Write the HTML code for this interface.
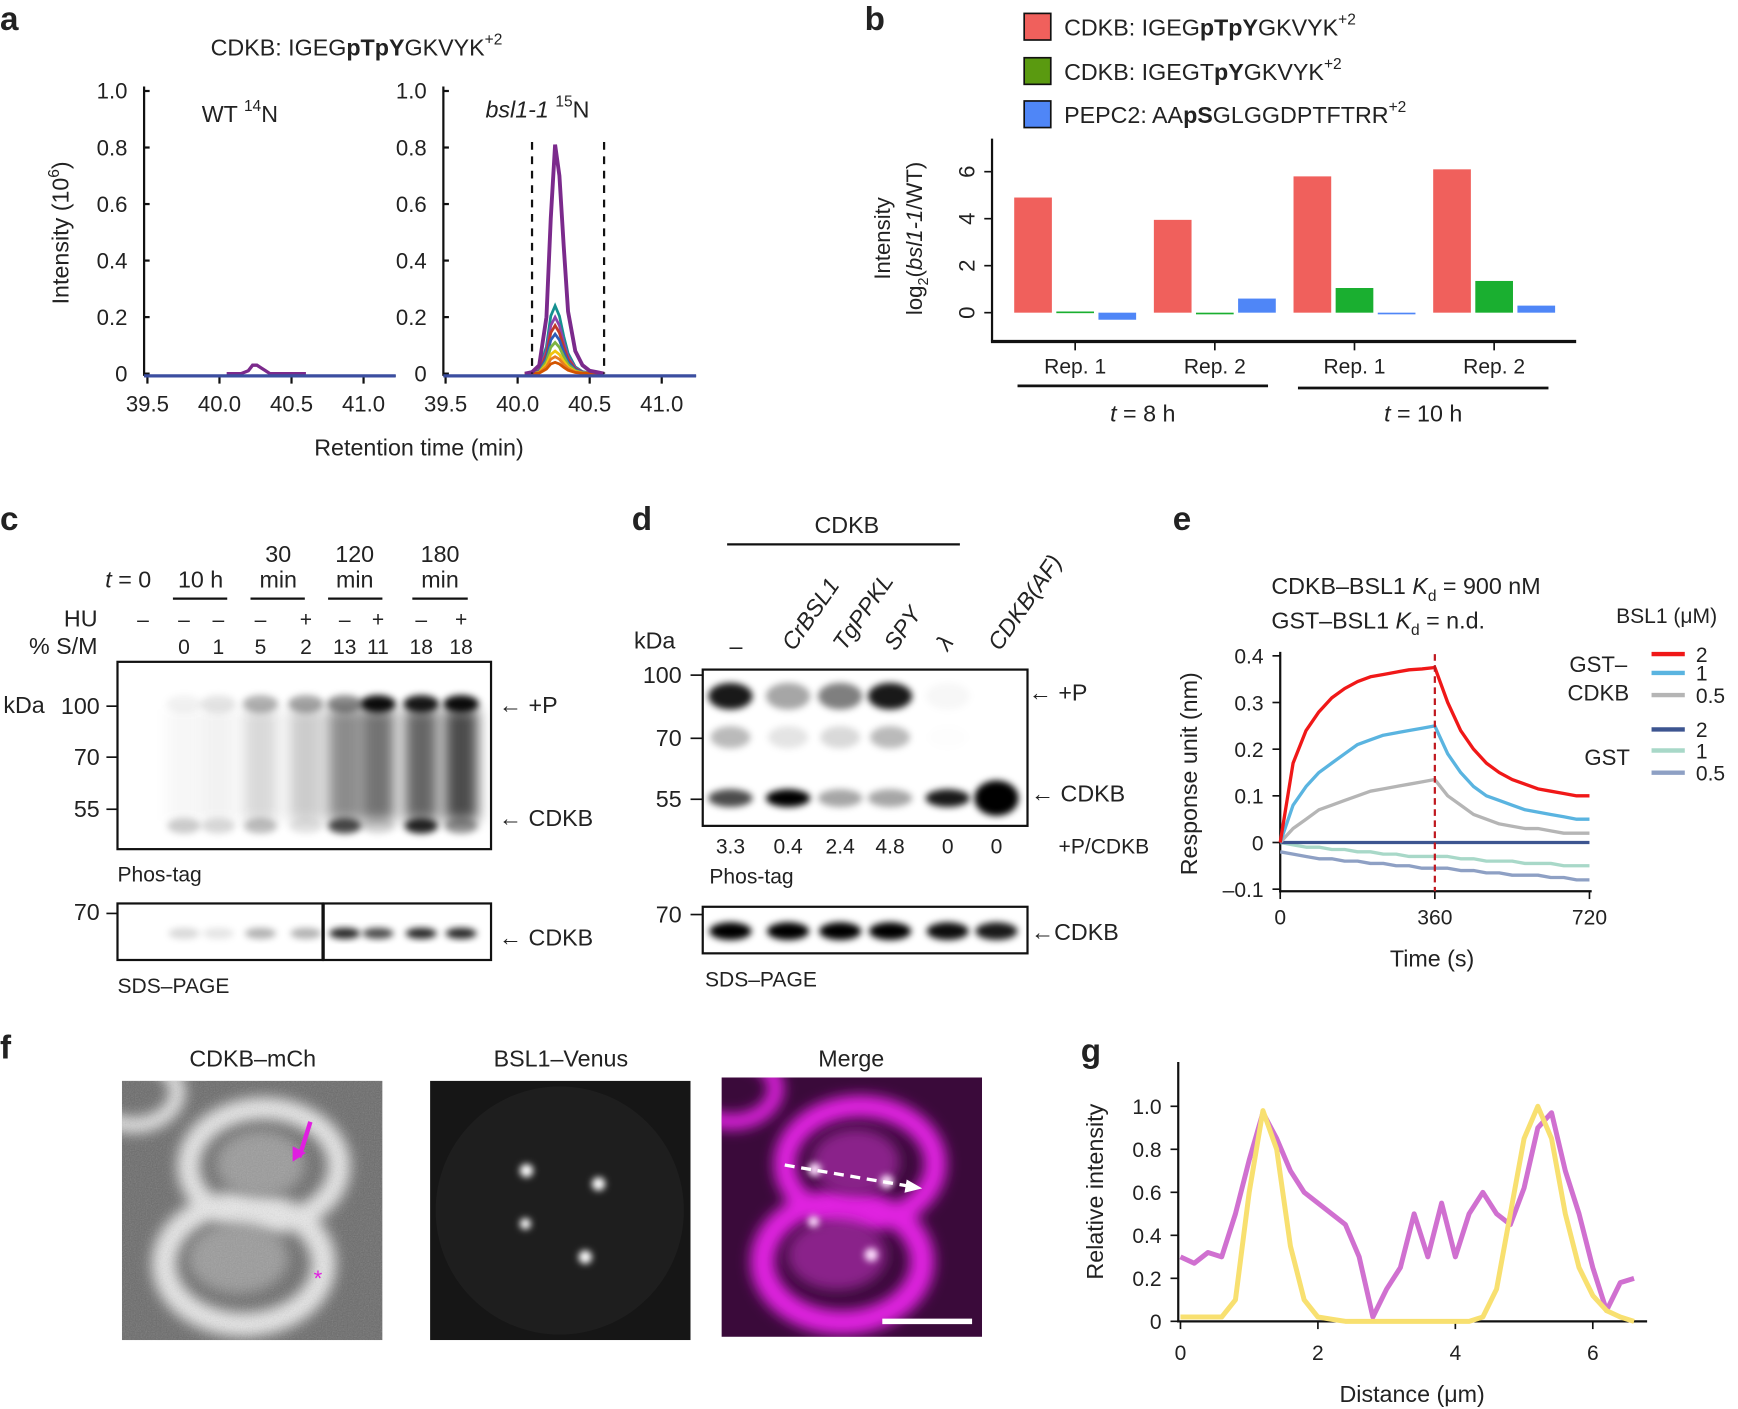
<!DOCTYPE html>
<html><head><meta charset="utf-8"><style>
html,body{margin:0;padding:0;background:#fff}
svg{display:block}
text{font-family:"Liberation Sans",sans-serif;fill:#222}
</style></head><body>
<svg id="fig" width="1738" height="1409" viewBox="0 0 1568 1271" xmlns="http://www.w3.org/2000/svg">
<defs>
<filter id="blur3" x="-50%" y="-50%" width="200%" height="200%"><feGaussianBlur stdDeviation="3"/></filter>
<filter id="blur6" x="-50%" y="-50%" width="200%" height="200%"><feGaussianBlur stdDeviation="6"/></filter>
<filter id="noise" x="0" y="0" width="100%" height="100%"><feTurbulence type="fractalNoise" baseFrequency="0.9" numOctaves="1" seed="3"/><feColorMatrix type="saturate" values="0"/><feComponentTransfer><feFuncA type="linear" slope="0.5"/></feComponentTransfer></filter>
<clipPath id="clipF1"><rect x="110" y="975" width="235" height="234"/></clipPath>
<clipPath id="clipF2"><rect x="388" y="975" width="235" height="234"/></clipPath>
<clipPath id="clipF3"><rect x="651" y="972" width="235" height="234"/></clipPath>
<clipPath id="clipC"><rect x="107" y="598" width="335" height="167"/></clipPath>
<clipPath id="clipD"><rect x="635" y="605" width="291" height="139"/></clipPath>
</defs>

<!-- panel labels -->
<g font-weight="bold" font-size="30">
<text x="0" y="27">a</text>
<text x="780" y="27">b</text>
<text x="0" y="478">c</text>
<text x="570" y="478">d</text>
<text x="1058" y="478">e</text>
<text x="0" y="955">f</text>
<text x="975" y="958">g</text>
</g>

<!-- ===== Panel a ===== -->
<g id="panelA">
<text x="190" y="50" font-size="21">CDKB: IGEG<tspan font-weight="bold">pTpY</tspan>GKVYK<tspan font-size="14" dy="-10">+2</tspan></text>
<text x="182" y="110" font-size="21">WT <tspan font-size="14" dy="-10">14</tspan><tspan dy="10">N</tspan></text>
<text x="438" y="106" font-size="21"><tspan font-style="italic">bsl1-1</tspan> <tspan font-size="14" dy="-10">15</tspan><tspan dy="10">N</tspan></text>
<text transform="translate(62,210) rotate(-90)" text-anchor="middle" font-size="21">Intensity (10<tspan font-size="14" dy="-9">6</tspan><tspan dy="9">)</tspan></text>
<text x="378" y="411" text-anchor="middle" font-size="21">Retention time (min)</text>
<g id="aAxes"></g>
<g id="aSeries"></g>
</g>

<!-- ===== Panel b ===== -->
<g id="panelB">
<g>
<rect x="924" y="12" width="24" height="24" fill="#f0605c" stroke="#111" stroke-width="1.5"/>
<text x="960" y="32" font-size="21">CDKB: IGEG<tspan font-weight="bold">pTpY</tspan>GKVYK<tspan font-size="14" dy="-10">+2</tspan></text>
<rect x="924" y="52" width="24" height="24" fill="#5a9a10" stroke="#111" stroke-width="1.5"/>
<text x="960" y="72" font-size="21">CDKB: IGEGT<tspan font-weight="bold">pY</tspan>GKVYK<tspan font-size="14" dy="-10">+2</tspan></text>
<rect x="924" y="91" width="24" height="24" fill="#4f86f7" stroke="#111" stroke-width="1.5"/>
<text x="960" y="111" font-size="21">PEPC2: AA<tspan font-weight="bold">pS</tspan>GLGGDPTFTRR<tspan font-size="14" dy="-10">+2</tspan></text>
</g>
<text transform="translate(803,215) rotate(-90)" text-anchor="middle" font-size="20">Intensity</text>
<text transform="translate(832,215) rotate(-90)" text-anchor="middle" font-size="20">log<tspan font-size="13" dy="5">2</tspan><tspan dy="-5">(</tspan><tspan font-style="italic">bsl1-1</tspan>/WT)</text>
<g id="bAxes"></g>
<g id="bBars"></g>
<line x1="918" y1="348" x2="1144" y2="348" stroke="#111" stroke-width="2.5"/>
<line x1="1171" y1="350" x2="1397" y2="350" stroke="#111" stroke-width="2.5"/>
<text x="1031" y="380" text-anchor="middle" font-size="21"><tspan font-style="italic">t</tspan> = 8 h</text>
<text x="1284" y="380" text-anchor="middle" font-size="21"><tspan font-style="italic">t</tspan> = 10 h</text>
</g>

<!-- ===== Panel c ===== -->
<g id="panelC" font-size="21">
<text x="95" y="530"><tspan font-style="italic">t</tspan> = 0</text>
<text x="181" y="530" text-anchor="middle">10 h</text>
<text x="251" y="507" text-anchor="middle">30</text><text x="251" y="530" text-anchor="middle">min</text>
<text x="320" y="507" text-anchor="middle">120</text><text x="320" y="530" text-anchor="middle">min</text>
<text x="397" y="507" text-anchor="middle">180</text><text x="397" y="530" text-anchor="middle">min</text>
<g stroke="#111" stroke-width="2"><line x1="156" y1="540" x2="205" y2="540"/><line x1="226" y1="540" x2="275" y2="540"/><line x1="296" y1="540" x2="345" y2="540"/><line x1="372" y1="540" x2="422" y2="540"/></g>
<text x="88" y="565" text-anchor="end">HU</text>
<text x="88" y="590" text-anchor="end">% S/M</text>
<g text-anchor="middle" font-size="19" id="cLaneText"></g>
<rect x="106" y="597" width="337" height="169" fill="#fff" stroke="#111" stroke-width="2"/>
<g clip-path="url(#clipC)" id="cBands"></g>
<text x="3" y="643">kDa</text>
<text x="90" y="644" text-anchor="end">100</text><text x="90" y="690" text-anchor="end">70</text><text x="90" y="737" text-anchor="end">55</text>
<g stroke="#111" stroke-width="1.5"><line x1="96" y1="637" x2="106" y2="637"/><line x1="96" y1="683" x2="106" y2="683"/><line x1="96" y1="730" x2="106" y2="730"/></g>
<text x="450" y="643">← +P</text>
<text x="450" y="745">← CDKB</text>
<text x="106" y="795" font-size="19">Phos-tag</text>
<rect x="106" y="815" width="185" height="51" fill="#fff" stroke="#111" stroke-width="2"/>
<rect x="292" y="815" width="151" height="51" fill="#fff" stroke="#111" stroke-width="2"/>
<g id="cSds"></g>
<text x="90" y="830" text-anchor="end">70</text><line x1="96" y1="824" x2="106" y2="824" stroke="#111" stroke-width="1.5"/>
<text x="450" y="853">← CDKB</text>
<text x="106" y="896" font-size="19">SDS–PAGE</text>
</g>

<!-- ===== Panel d ===== -->
<g id="panelD" font-size="21">
<text x="764" y="481" text-anchor="middle">CDKB</text>
<line x1="656" y1="491" x2="866" y2="491" stroke="#111" stroke-width="2"/>
<text x="572" y="585">kDa</text>
<text x="664" y="590" text-anchor="middle">–</text>
<g font-style="italic">
<text transform="translate(716,588) rotate(-55)">CrBSL1</text>
<text transform="translate(762,588) rotate(-55)">TgPPKL</text>
<text transform="translate(808,588) rotate(-55)">SPY</text>
<text transform="translate(855,588) rotate(-55)">λ</text>
<text transform="translate(902,588) rotate(-55)">CDKB(AF)</text>
</g>
<rect x="634" y="604" width="293" height="141" fill="#fff" stroke="#111" stroke-width="2"/>
<g clip-path="url(#clipD)" id="dBands"></g>
<text x="615" y="616" text-anchor="end">100</text><text x="615" y="673" text-anchor="end">70</text><text x="615" y="728" text-anchor="end">55</text>
<g stroke="#111" stroke-width="1.5"><line x1="623" y1="609" x2="634" y2="609"/><line x1="623" y1="666" x2="634" y2="666"/><line x1="623" y1="721" x2="634" y2="721"/></g>
<text x="928" y="632">← +P</text>
<text x="930" y="723">← CDKB</text>
<g text-anchor="middle" font-size="19"><text x="659" y="770">3.3</text><text x="711" y="770">0.4</text><text x="758" y="770">2.4</text><text x="803" y="770">4.8</text><text x="855" y="770">0</text><text x="899" y="770">0</text></g>
<text x="955" y="770" font-size="19">+P/CDKB</text>
<text x="640" y="797" font-size="19">Phos-tag</text>
<rect x="634" y="818" width="293" height="42" fill="#fff" stroke="#111" stroke-width="2"/>
<g id="dSds"></g>
<text x="615" y="832" text-anchor="end">70</text><line x1="623" y1="825" x2="634" y2="825" stroke="#111" stroke-width="1.5"/>
<text x="930" y="848">←CDKB</text>
<text x="636" y="890" font-size="19">SDS–PAGE</text>
</g>

<!-- ===== Panel e ===== -->
<g id="panelE">
<text x="1147" y="536" font-size="21">CDKB–BSL1 <tspan font-style="italic">K</tspan><tspan font-size="14" dy="6">d</tspan><tspan dy="-6"> = 900 nM</tspan></text>
<text x="1147" y="567" font-size="21">GST–BSL1 <tspan font-style="italic">K</tspan><tspan font-size="14" dy="6">d</tspan><tspan dy="-6"> = n.d.</tspan></text>
<text x="1458" y="562" font-size="19">BSL1 (μM)</text>
<text x="1442" y="606" font-size="20" text-anchor="middle">GST–</text>
<text x="1442" y="632" font-size="20" text-anchor="middle">CDKB</text>
<text x="1450" y="690" font-size="20" text-anchor="middle">GST</text>
<g id="eLegend"></g>
<text transform="translate(1080,698) rotate(-90)" text-anchor="middle" font-size="21">Response unit (nm)</text>
<text x="1292" y="872" text-anchor="middle" font-size="21">Time (s)</text>
<g id="eAxes"></g>
<g id="eSeries"></g>
</g>

<!-- ===== Panel f ===== -->
<g id="panelF">
<text x="228" y="962" text-anchor="middle" font-size="21">CDKB–mCh</text>
<text x="506" y="962" text-anchor="middle" font-size="21">BSL1–Venus</text>
<text x="768" y="962" text-anchor="middle" font-size="21">Merge</text>
<g clip-path="url(#clipF1)">
<rect x="110" y="975" width="235" height="234" fill="#6a6a6a"/>
<g filter="url(#blur6)" fill="none" stroke="#e8e8e8">
<ellipse cx="238" cy="1052" rx="68" ry="52" stroke-width="20"/>
<ellipse cx="220" cy="1140" rx="72" ry="55" stroke-width="22"/>
<ellipse cx="120" cy="985" rx="40" ry="30" stroke-width="14"/>
</g>
<g filter="url(#blur6)" fill="#9a9a9a"><ellipse cx="235" cy="1050" rx="40" ry="30"/><ellipse cx="215" cy="1135" rx="45" ry="32"/></g>
<rect x="110" y="975" width="235" height="234" filter="url(#noise)" opacity="0.6"/>
<path d="M280,1012 L270,1044" stroke="#e01ee0" stroke-width="4"/><path d="M264,1048 l0,-14 l12,6 z" fill="#e01ee0"/>
<text x="283" y="1160" font-size="20" fill="#e01ee0" style="fill:#e01ee0">*</text>
</g>
<g clip-path="url(#clipF2)">
<rect x="388" y="975" width="235" height="234" fill="#161616"/>
<ellipse cx="505" cy="1092" rx="112" ry="112" fill="#1e1e1e"/>
<g fill="#fff" filter="url(#blur3)"><circle cx="475" cy="1056" r="6"/><circle cx="540" cy="1068" r="6"/><circle cx="474" cy="1104" r="5"/><circle cx="528" cy="1134" r="6"/></g>
</g>
<g clip-path="url(#clipF3)">
<rect x="651" y="972" width="235" height="234" fill="#3a0a3a"/>
<g filter="url(#blur6)" fill="none" stroke="#e020e0">
<ellipse cx="776" cy="1050" rx="68" ry="52" stroke-width="20"/>
<ellipse cx="760" cy="1138" rx="72" ry="55" stroke-width="22"/>
<ellipse cx="660" cy="982" rx="40" ry="30" stroke-width="14"/>
</g>
<g filter="url(#blur6)" fill="#8a208a"><ellipse cx="772" cy="1048" rx="40" ry="30"/><ellipse cx="755" cy="1132" rx="45" ry="32"/></g>
<g fill="#ffe0ff" filter="url(#blur3)"><circle cx="735" cy="1055" r="6"/><circle cx="800" cy="1066" r="6"/><circle cx="734" cy="1102" r="5"/><circle cx="786" cy="1132" r="6"/></g>
<line x1="708" y1="1051" x2="820" y2="1070" stroke="#fff" stroke-width="3" stroke-dasharray="9,6"/>
<path d="M832,1072 l-14,-8 l-2,12 z" fill="#fff"/>
<line x1="796" y1="1192" x2="877" y2="1192" stroke="#fff" stroke-width="5"/>
</g>
</g>

<!-- ===== Panel g ===== -->
<g id="panelG">
<text transform="translate(995,1075) rotate(-90)" text-anchor="middle" font-size="21">Relative intensity</text>
<text x="1274" y="1265" text-anchor="middle" font-size="21">Distance (μm)</text>
<g id="gAxes"></g>
<g id="gSeries"></g>
</g>
</svg>

<script>
const NS='http://www.w3.org/2000/svg';
function mk(tag,attrs,parent){const e=document.createElementNS(NS,tag);for(const k in attrs)e.setAttribute(k,attrs[k]);if(parent)parent.appendChild(e);return e;}

/* ---------- Panel a data ---------- */
const aTimes=[40.05,40.1,40.15,40.2,40.23,40.26,40.29,40.32,40.35,40.4,40.45,40.5,40.55,40.6];
const aPurpleR=[0,0.005,0.03,0.2,0.55,0.81,0.7,0.45,0.22,0.08,0.03,0.01,0.005,0];
const aProfile=[0,0,0.05,0.4,0.85,1,0.85,0.55,0.3,0.1,0.03,0.01,0,0];
const aPeakHeights=[0.24,0.2,0.17,0.14,0.11,0.08,0.06,0.04];
const aPeakColors=['#159090','#8e44ad','#c0392b','#2e5cb8','#7cb342','#f1c40f','#e67e22','#d35400'];
const aPurpleL=[0,0,0,0.01,0.03,0.03,0.02,0.01,0,0,0,0,0,0];
const aYTicks=[0,0.2,0.4,0.6,0.8,1.0];
const aYTickLabels=['0','0.2','0.4','0.6','0.8','1.0'];
const aXTicks=[39.5,40.0,40.5,41.0];
const aXTickLabels=['39.5','40.0','40.5','41.0'];
(function(){
 const ax=document.getElementById('aAxes'), sg=document.getElementById('aSeries');
 const y=v=>337-v*255;
 const panels=[{x0:130,xs:v=>133+(v-39.5)*130,xe:357},{x0:400,xs:v=>402+(v-39.5)*130,xe:628}];
 panels.forEach((p,pi)=>{
  mk('line',{x1:p.x0,y1:78,x2:p.x0,y2:339,stroke:'#111','stroke-width':2},ax);
  mk('line',{x1:p.x0,y1:339,x2:p.xe,y2:339,stroke:'#111','stroke-width':2},ax);
  aYTicks.forEach((t,i)=>{
   mk('line',{x1:p.x0,y1:y(t),x2:p.x0+5,y2:y(t),stroke:'#111','stroke-width':2},ax);
   const tx=mk('text',{x:p.x0-15,y:y(t)+7,'text-anchor':'end','font-size':20},ax);tx.textContent=aYTickLabels[i];
  });
  aXTicks.forEach((t,i)=>{
   mk('line',{x1:p.xs(t),y1:339,x2:p.xs(t),y2:346,stroke:'#111','stroke-width':2},ax);
   const tx=mk('text',{x:p.xs(t),y:371,'text-anchor':'middle','font-size':20},ax);tx.textContent=aXTickLabels[i];
  });
  const pathOf=(vals)=>vals.map((v,i)=>(i?'L':'M')+p.xs(aTimes[i]).toFixed(1)+','+y(v).toFixed(1)).join(' ');
  if(pi===1){
   aPeakHeights.forEach((h,k)=>{
    const pa=mk('path',{d:pathOf(aProfile.map(f=>f*h)),fill:'none',stroke:aPeakColors[k],'stroke-width':2.5},sg);
    
    
   });
   const pp=mk('path',{d:pathOf(aPurpleR),fill:'none',stroke:'#7b2a8c','stroke-width':3.5},sg);
   
   
   [40.1,40.6].forEach(t=>mk('line',{x1:p.xs(t),y1:128,x2:p.xs(t),y2:337,stroke:'#111','stroke-width':2,'stroke-dasharray':'7,6'},sg));
  } else {
   const pl=mk('path',{d:pathOf(aPurpleL),fill:'none',stroke:'#7b2a8c','stroke-width':3},sg);
   
   
  }
  mk('line',{x1:p.x0,y1:339,x2:p.xe,y2:339,stroke:'#3b4ea0','stroke-width':3},sg);
 });
})();

/* ---------- Panel b data ---------- */
const bCategories=['Rep. 1','Rep. 2','Rep. 1','Rep. 2'];
const bRed=[4.9,3.95,5.8,6.1];
const bGreen=[0.05,-0.05,1.05,1.35];
const bBlue=[-0.3,0.6,-0.02,0.3];
const bYTicks=[0,2,4,6];
(function(){
 const ax=document.getElementById('bAxes'), g=document.getElementById('bBars');
 const y=v=>282-v*21.2;
 const cx=i=>970+i*126;
 mk('line',{x1:895,y1:125,x2:895,y2:308,stroke:'#111','stroke-width':2},ax);
 mk('line',{x1:894,y1:308,x2:1422,y2:308,stroke:'#111','stroke-width':3},ax);
 bYTicks.forEach(t=>{
  mk('line',{x1:888,y1:y(t),x2:895,y2:y(t),stroke:'#111','stroke-width':1.5},ax);
  const tx=mk('text',{x:872,y:y(t),'text-anchor':'middle','font-size':20,transform:`rotate(-90 872 ${y(t)})`,dy:7},ax);tx.textContent=t;
 });
 bCategories.forEach((c,i)=>{
  mk('line',{x1:cx(i),y1:308,x2:cx(i),y2:316,stroke:'#111','stroke-width':1.5},ax);
  const tx=mk('text',{x:cx(i),y:337,'text-anchor':'middle','font-size':19},ax);tx.textContent=c;
 });
 const series=[[bRed,'#f0605c',-38],[bGreen,'#1aaf30',0],[bBlue,'#4f86f7',38]];
 series.forEach(([vals,col,off],si)=>{
  vals.forEach((v,i)=>{
   const top=Math.min(y(v),y(0)),h=Math.max(Math.abs(y(v)-y(0)),1.5);
   const r=mk('rect',{x:cx(i)+off-17,y:top,width:34,height:h,fill:col},g);
   
   
  });
 });
})();

/* ---------- Panel c blot ---------- */
const cLanes=[129,166,197,235,276,311,341,380,416];
const cHU=['–','–','–','–','+','–','+','–','+'];
const cSM=['','0','1','5','2','13','11','18','18'];
const cTopDark=[0,0.05,0.1,0.3,0.35,0.45,0.95,0.9,0.95];
const cBotDark=[0,0.2,0.15,0.25,0.1,0.7,0.15,0.85,0.4];
const cSmear=[0,0.03,0.05,0.15,0.2,0.45,0.55,0.6,0.7];
const cSdsDark=[0,0.15,0.1,0.3,0.3,0.85,0.7,0.85,0.85];
(function(){
 const tg=document.getElementById('cLaneText'), b=document.getElementById('cBands'), s=document.getElementById('cSds');
 cLanes.forEach((x,i)=>{
  let t=mk('text',{x:x,y:565},tg);t.textContent=cHU[i];
  t=mk('text',{x:x,y:590},tg);t.textContent=cSM[i];
  if(i===0)return;
  const g=`rgba(0,0,0,${cSmear[i]})`;
  mk('rect',{x:x-15,y:640,width:30,height:100,fill:g,filter:'url(#blur6)'},b);
  mk('ellipse',{cx:x,cy:635,rx:16,ry:8,fill:`rgba(0,0,0,${cTopDark[i]})`,filter:'url(#blur3)'},b);
  mk('ellipse',{cx:x,cy:745,rx:15,ry:7,fill:`rgba(0,0,0,${cBotDark[i]})`,filter:'url(#blur3)'},b);
  mk('ellipse',{cx:x,cy:842,rx:14,ry:5,fill:`rgba(0,0,0,${cSdsDark[i]})`,filter:'url(#blur3)'},s);
 });
})();

/* ---------- Panel d blot ---------- */
const dLanes=[659,711,758,803,855,899];
const dTop=[0.9,0.35,0.5,0.9,0.03,0];
const dBot=[0.7,1,0.35,0.35,0.9,1];
const dSds=[1,1,1,1,0.95,0.9];
(function(){
 const b=document.getElementById('dBands'), s=document.getElementById('dSds');
 dLanes.forEach((x,i)=>{
  mk('ellipse',{cx:x,cy:628,rx:20,ry:12,fill:`rgba(0,0,0,${dTop[i]})`,filter:'url(#blur3)'},b);
  mk('ellipse',{cx:x,cy:665,rx:18,ry:10,fill:`rgba(0,0,0,${dTop[i]*0.3})`,filter:'url(#blur3)'},b);
  mk('ellipse',{cx:x,cy:720,rx:20,ry:i===5?16:8,fill:`rgba(0,0,0,${dBot[i]})`,filter:'url(#blur3)'},b);
  mk('ellipse',{cx:x,cy:840,rx:19,ry:8,fill:`rgba(0,0,0,${dSds[i]})`,filter:'url(#blur3)'},s);
 });
})();

/* ---------- Panel e data ---------- */
const eTimes=[0,30,60,90,120,150,180,210,240,270,300,330,360,390,420,450,480,510,540,570,600,630,660,690,720];
const eRed2=[0,0.17,0.24,0.28,0.31,0.33,0.345,0.355,0.36,0.365,0.37,0.372,0.375,0.30,0.24,0.20,0.17,0.15,0.135,0.125,0.115,0.11,0.105,0.10,0.10];
const eBlue1=[0,0.08,0.12,0.15,0.17,0.19,0.21,0.22,0.23,0.235,0.24,0.245,0.25,0.19,0.15,0.12,0.10,0.09,0.08,0.07,0.065,0.06,0.055,0.05,0.05];
const eGray05=[0,0.03,0.05,0.07,0.08,0.09,0.10,0.11,0.115,0.12,0.125,0.13,0.135,0.10,0.08,0.06,0.05,0.04,0.035,0.03,0.03,0.025,0.02,0.02,0.02];
const eGst2=[0,0,0,0,0,0,0,0,0,0,0,0,0,0,0,0,0,0,0,0,0,0,0,0,0];
const eGst1=[0,-0.005,-0.01,-0.01,-0.015,-0.015,-0.02,-0.02,-0.025,-0.025,-0.03,-0.03,-0.03,-0.03,-0.035,-0.035,-0.04,-0.04,-0.04,-0.045,-0.045,-0.045,-0.05,-0.05,-0.05];
const eGst05=[-0.02,-0.025,-0.03,-0.035,-0.035,-0.04,-0.04,-0.045,-0.045,-0.05,-0.05,-0.055,-0.055,-0.055,-0.06,-0.06,-0.065,-0.065,-0.07,-0.07,-0.07,-0.075,-0.075,-0.08,-0.08];
const eYTicks=[-0.1,0,0.1,0.2,0.3,0.4];
const eYTickLabels=['–0.1','0','0.1','0.2','0.3','0.4'];
const eXTicks=[0,360,720];
(function(){
 const ax=document.getElementById('eAxes'), sg=document.getElementById('eSeries'), lg=document.getElementById('eLegend');
 const x=t=>1155+t*(279/720), y=v=>760-v*421;
 mk('line',{x1:1155,y1:588,x2:1155,y2:805,stroke:'#111','stroke-width':2},ax);
 mk('line',{x1:1154,y1:804,x2:1436,y2:804,stroke:'#111','stroke-width':2},ax);
 eYTicks.forEach((t,i)=>{
  mk('line',{x1:1148,y1:y(t),x2:1155,y2:y(t),stroke:'#111','stroke-width':1.5},ax);
  const tx=mk('text',{x:1140,y:y(t)+7,'text-anchor':'end','font-size':19},ax);tx.textContent=eYTickLabels[i];
 });
 eXTicks.forEach(t=>{
  mk('line',{x1:x(t),y1:804,x2:x(t),y2:811,stroke:'#111','stroke-width':1.5},ax);
  const tx=mk('text',{x:x(t),y:834,'text-anchor':'middle','font-size':19},ax);tx.textContent=t;
 });
 const ser=[[eGst05,'#8ea0c4','gst-0.5'],[eGst1,'#a8d8c8','gst-1'],[eGst2,'#3d5590','gst-2'],[eGray05,'#b5b5b5','gst-cdkb-0.5'],[eBlue1,'#5ab4e0','gst-cdkb-1'],[eRed2,'#f01818','gst-cdkb-2']];
 ser.forEach(([vals,col,nm])=>{
  const p=mk('path',{d:vals.map((v,i)=>(i?'L':'M')+x(eTimes[i]).toFixed(1)+','+y(v).toFixed(1)).join(' '),fill:'none',stroke:col,'stroke-width':3,'stroke-linejoin':'round'},sg);
  
  
 });
 mk('line',{x1:x(360),y1:590,x2:x(360),y2:804,stroke:'#c0181f','stroke-width':2,'stroke-dasharray':'6,4'},sg);
 const leg=[['#f01818','2',590],['#5ab4e0','1',607],['#b5b5b5','0.5',627],['#3d5590','2',658],['#a8d8c8','1',677],['#8ea0c4','0.5',697]];
 leg.forEach(([c,l,yy])=>{
  mk('line',{x1:1490,y1:yy,x2:1520,y2:yy,stroke:c,'stroke-width':4},lg);
  const t=mk('text',{x:l==='0.5'?1530:1530,y:yy+7,'font-size':19},lg);t.textContent=l;
 });
})();

/* ---------- Panel g data ---------- */
const gDist=[0,0.2,0.4,0.6,0.8,1.0,1.2,1.4,1.6,1.8,2.0,2.2,2.4,2.6,2.8,3.0,3.2,3.4,3.6,3.8,4.0,4.2,4.4,4.6,4.8,5.0,5.2,5.4,5.6,5.8,6.0,6.2,6.4,6.6];
const gMagenta=[0.3,0.27,0.32,0.3,0.5,0.75,0.97,0.85,0.7,0.6,0.55,0.5,0.45,0.3,0.02,0.15,0.25,0.5,0.3,0.55,0.3,0.5,0.6,0.5,0.45,0.62,0.9,0.97,0.7,0.5,0.25,0.05,0.18,0.2];
const gYellow=[0.02,0.02,0.02,0.02,0.1,0.6,0.98,0.8,0.35,0.1,0.02,0.01,0,0,0,0,0,0,0,0,0,0,0.02,0.15,0.5,0.85,1.0,0.85,0.5,0.25,0.12,0.05,0.02,0];
const gYTicks=[0,0.2,0.4,0.6,0.8,1.0];
const gYTickLabels=['0','0.2','0.4','0.6','0.8','1.0'];
const gXTicks=[0,2,4,6];
(function(){
 const ax=document.getElementById('gAxes'), sg=document.getElementById('gSeries');
 const x=v=>1065+v*62, y=v=>1192-v*194;
 mk('line',{x1:1063,y1:958,x2:1063,y2:1193,stroke:'#111','stroke-width':2},ax);
 mk('line',{x1:1062,y1:1192,x2:1486,y2:1192,stroke:'#111','stroke-width':2},ax);
 gYTicks.forEach((t,i)=>{
  mk('line',{x1:1056,y1:y(t),x2:1063,y2:y(t),stroke:'#111','stroke-width':1.5},ax);
  const tx=mk('text',{x:1048,y:y(t)+7,'text-anchor':'end','font-size':19},ax);tx.textContent=gYTickLabels[i];
 });
 gXTicks.forEach(t=>{
  mk('line',{x1:x(t),y1:1192,x2:x(t),y2:1199,stroke:'#111','stroke-width':1.5},ax);
  const tx=mk('text',{x:x(t),y:1227,'text-anchor':'middle','font-size':19},ax);tx.textContent=t;
 });
 [[gMagenta,'#d070d0','magenta-profile'],[gYellow,'#f8e070','yellow-profile']].forEach(([vals,col,nm])=>{
  const p=mk('path',{d:vals.map((v,i)=>(i?'L':'M')+x(gDist[i]).toFixed(1)+','+y(v).toFixed(1)).join(' '),fill:'none',stroke:col,'stroke-width':4.5,'stroke-linejoin':'round'},sg);
  
  
 });
})();
</script>
</body></html>
